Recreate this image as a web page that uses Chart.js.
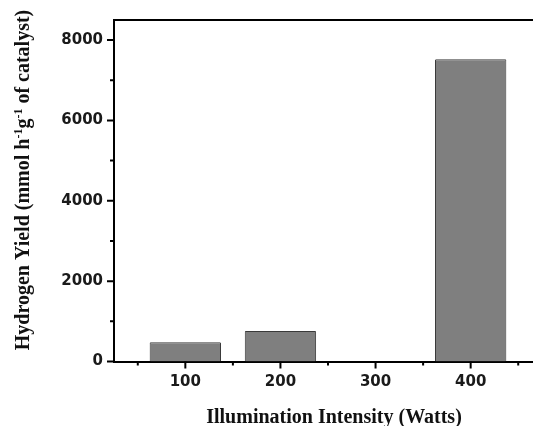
<!DOCTYPE html>
<html><head><meta charset="utf-8">
<script src="https://cdn.jsdelivr.net/npm/chart.js@4/dist/chart.umd.min.js"></script>
<style>
html,body{margin:0;padding:0;overflow:hidden;background:#fff;}
#wrap{position:relative;width:545px;height:426px;}
</style></head><body>
<div id="wrap"><canvas id="c"></canvas></div>
<script>
// Hydrogen yield per illumination intensity
const watts = [100, 200, 300, 400];
const yields = [480, 760, 0, 7520];
const xTickValues = [100, 200, 300, 400];
const xMinorTicks = [50, 150, 250, 350, 450];
const yTickValues = [0, 2000, 4000, 6000, 8000];
const yMinorTicks = [1000, 3000, 5000, 7000];
const xTitle = 'Illumination Intensity (Watts)';
// [text, isSuperscript]
const yTitleParts = [['Hydrogen Yield (mmol h', false], ['-1', true], ['g', false], ['-1', true], [' of catalyst)', false]];

const titleFont = 'bold 20px "Liberation Serif", "Times New Roman", serif';
const supFont = 'bold 12px "Liberation Serif", "Times New Roman", serif';

const frameAndTicks = {
  id: 'frameAndTicks',
  afterDraw(chart) {
    const ctx = chart.ctx;
    const a = chart.chartArea;
    const xs = chart.scales.x, ys = chart.scales.y;
    ctx.save();
    ctx.strokeStyle = '#000';
    ctx.lineWidth = 2;
    ctx.beginPath();
    // top and right edges of the frame
    ctx.moveTo(a.left - 1, a.top);
    ctx.lineTo(a.right, a.top);
    ctx.lineTo(a.right, a.bottom);
    // y tick marks (outside)
    yTickValues.forEach(v => { const y = ys.getPixelForValue(v); ctx.moveTo(a.left - 7, y); ctx.lineTo(a.left, y); });
    yMinorTicks.forEach(v => { const y = ys.getPixelForValue(v); ctx.moveTo(a.left - 4, y); ctx.lineTo(a.left, y); });
    // x tick marks (outside)
    xTickValues.forEach(v => { const x = xs.getPixelForValue(v); ctx.moveTo(x, a.bottom); ctx.lineTo(x, a.bottom + 7); });
    xMinorTicks.forEach(v => { const x = xs.getPixelForValue(v); ctx.moveTo(x, a.bottom); ctx.lineTo(x, a.bottom + 4); });
    ctx.stroke();

    // axis titles
    ctx.fillStyle = '#111';
    ctx.font = titleFont;
    ctx.textAlign = 'center';
    ctx.textBaseline = 'alphabetic';
    ctx.fillText(xTitle, 334, 423);

    ctx.translate(29, 180);
    ctx.rotate(-Math.PI / 2);
    let total = 0;
    yTitleParts.forEach(([t, sup]) => { ctx.font = sup ? supFont : titleFont; total += ctx.measureText(t).width; });
    let x = -total / 2;
    ctx.textAlign = 'left';
    yTitleParts.forEach(([t, sup]) => {
      ctx.font = sup ? supFont : titleFont;
      ctx.fillText(t, x, sup ? -7 : 0);
      x += ctx.measureText(t).width;
    });
    ctx.restore();
  }
};

const tickFont = { family: '"DejaVu Sans", Verdana, sans-serif', size: 15, weight: 'bold' };

new Chart(document.getElementById('c'), {
  type: 'bar',
  data: {
    datasets: [{
      data: watts.map((w, i) => ({ x: w, y: yields[i] })),
      backgroundColor: '#7f7f7f',
      borderColor: '#3a3a3a',
      borderWidth: 1,
      borderRadius: 1,
      categoryPercentage: 1,
      barPercentage: 0.75
    }]
  },
  options: {
    responsive: true,
    maintainAspectRatio: false,
    animation: false,
    devicePixelRatio: 1,
    layout: { padding: { top: 16, right: 3, left: 0, bottom: 0 } },
    plugins: { legend: { display: false }, tooltip: { enabled: false } },
    scales: {
      x: {
        type: 'linear',
        offset: false,
        min: 25, max: 475,
        afterBuildTicks: s => { s.ticks = xTickValues.map(v => ({ value: v })); },
        afterFit: s => { s.height = 64.5; },
        grid: { display: false, drawTicks: false, offset: false },
        border: { display: true, color: '#000', width: 2 },
        ticks: { font: tickFont, color: '#1a1a1a', padding: 12, maxRotation: 0, callback: v => String(v) }
      },
      y: {
        min: 0, max: 8500,
        afterBuildTicks: s => { s.ticks = yTickValues.map(v => ({ value: v })); },
        afterFit: s => { s.width = 114; },
        grid: { display: false, drawTicks: false },
        border: { display: true, color: '#000', width: 2 },
        ticks: { font: tickFont, color: '#1a1a1a', padding: 11, callback: v => String(v) }
      }
    }
  },
  plugins: [frameAndTicks]
});
</script>
</body></html>
